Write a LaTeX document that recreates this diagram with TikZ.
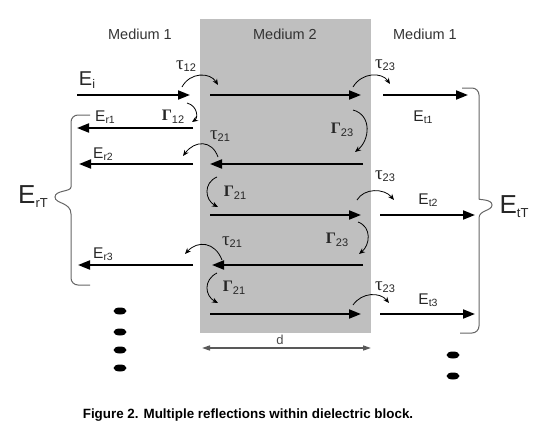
\documentclass[tikz,border=0pt]{standalone}
\usepackage{fontspec}
\setmainfont{Liberation Sans}
\newfontfamily\grk{Liberation Serif}
\usetikzlibrary{arrows.meta}
\newcommand{\mytau}[1]{{\fontsize{19}{19}\selectfont\grk τ}{\fontsize{11}{11}\selectfont\raisebox{-2.5pt}{#1}}}
\newcommand{\mygam}[1]{{\fontsize{16}{16}\selectfont\grk\bfseries Γ}{\fontsize{11}{11}\selectfont\raisebox{-2.5pt}{#1}}}
\newcommand{\myE}[1]{{\fontsize{15.5}{15.5}\selectfont E}{\fontsize{10.5}{10.5}\selectfont\raisebox{-2.5pt}{#1}}}
\begin{document}
\begin{tikzpicture}[x=1pt,y=-1pt,
  big/.style={line width=2pt,-{Triangle[length=12pt,width=9pt]}},
  small/.style={line width=0.8pt,-{Stealth[length=6pt,width=5pt]}},
  bracestyle/.style={draw=black!60,line width=1pt,rounded corners=7pt},
  lbl/.style={inner sep=0pt,text=black!85},
  med/.style={inner sep=0pt,text=black!80,font=\fontsize{14.5}{14.5}\selectfont},
  dot/.style={fill=black}]
\useasboundingbox (0,0) rectangle (539,434);
% block
\fill[black!25] (200,19) rectangle (371,333);
% medium labels
\node[med] (m1l) at (140,34) {Medium 1};
\node[med] (m2) at (285,34) {Medium 2};
\node[med] (m1r) at (425,34) {Medium 1};
% row 1
\draw[big] (77,95) -- (190,95);
\draw[big] (210,95) -- (361,95);
\draw[big] (383,95) -- (468,95);
% row 2
\draw[big] (193,128) -- (77,128);
% row 3
\draw[big] (193,164) -- (79,164);
\draw[big] (363,164) -- (210,164);
% row 4
\draw[big] (210,215) -- (361,215);
\draw[big] (380,215) -- (475,215);
% row 5
\draw[big] (363,265) -- (212,265);
\draw[big] (193,265) -- (78,265);
% row 6
\draw[big] (210,314) -- (361,314);
\draw[big] (380,314) -- (475,314);
% dimension d
\draw[black!65,line width=1.5pt,{Triangle[length=8pt,width=5pt]}-{Triangle[length=8pt,width=5pt]}] (202,348) -- (371,348);
\node[lbl,font=\fontsize{13}{13}\selectfont,text=black!70] (d) at (280,340) {d};
% small curved arrows
\draw[small] (182,87) .. controls (190,72) and (210,72) .. (218,85);
\draw[small] (187,103) .. controls (198,106) and (198,118) .. (192,122);
\draw[small] (353,87) .. controls (362,72) and (382,72) .. (390,84);
\draw[small] (353,110) .. controls (372,115) and (370,140) .. (355,152);
\draw[small] (218,157) .. controls (212,140) and (195,140) .. (183,156);
\draw[small] (217,177) .. controls (203,183) and (205,200) .. (218,207);
\draw[small] (357,200) .. controls (364,188) and (384,188) .. (394,200);
\draw[small] (358,222) .. controls (372,227) and (370,245) .. (359,254);
\draw[small] (222,260) .. controls (215,242) and (198,240) .. (185,254);
\draw[small] (217,273) .. controls (203,280) and (205,296) .. (218,303);
\draw[small] (353,305) .. controls (362,292) and (380,292) .. (389,303);
% greek labels
\node[lbl] (t12) at (186,66) {\mytau{12}};
\node[lbl] (g12) at (173,117) {\mygam{12}};
\node[lbl] (t23a) at (385,65) {\mytau{23}};
\node[lbl] (g23a) at (342,130) {\mygam{23}};
\node[lbl] (t21a) at (220,136) {\mytau{21}};
\node[lbl] (g21a) at (235,193) {\mygam{21}};
\node[lbl] (t23b) at (385,176) {\mytau{23}};
\node[lbl] (g23b) at (337,240) {\mygam{23}};
\node[lbl] (t21b) at (232,242) {\mytau{21}};
\node[lbl] (g21b) at (234,288) {\mygam{21}};
\node[lbl] (t23c) at (385,287) {\mytau{23}};
% E labels
\node[lbl] (Ei) at (87,80) {{\fontsize{20}{20}\selectfont E}{\fontsize{12.5}{12.5}\selectfont\raisebox{-3.5pt}{i}}};
\node[lbl] (Er1) at (105,117) {\myE{r1}};
\node[lbl] (Er2) at (103,154) {\myE{r2}};
\node[lbl] (Er3) at (103,254) {\myE{r3}};
\node[lbl] (Et1) at (423,117) {\myE{t1}};
\node[lbl] (Et2) at (428,200) {\myE{t2}};
\node[lbl] (Et3) at (428,300) {\myE{t3}};
\node[lbl] (ErT) at (33,197) {{\fontsize{26}{26}\selectfont E}{\fontsize{13}{13}\selectfont\raisebox{-4pt}{rT}}};
\node[lbl] (EtT) at (514,207) {{\fontsize{26}{26}\selectfont E}{\fontsize{13}{13}\selectfont\raisebox{-4pt}{tT}}};
% braces
\draw[bracestyle] (90,115) -- (71,115) -- (71,180) [sharp corners] .. controls (71,192) and (55,190) .. (55,197) .. controls (55,204) and (71,202) .. (71,214) [rounded corners=7pt] -- (71,285) -- (90,285);
\draw[bracestyle] (462,88) -- (479,88) -- (479,192) [sharp corners] .. controls (479,200) and (492,199) .. (492,205) .. controls (492,211) and (479,210) .. (479,218) [rounded corners=7pt] -- (479,333) -- (460,333);
% dots
\fill[dot] (120,311) ellipse (6.5 and 3.5);
\fill[dot] (120,332) ellipse (6.5 and 3.5);
\fill[dot] (120,350) ellipse (6.5 and 3.5);
\fill[dot] (120,368) ellipse (6.5 and 3.5);
\fill[dot] (453,355) ellipse (6.5 and 3.5);
\fill[dot] (453,376) ellipse (6.5 and 3.5);
% caption
\node[inner sep=0pt,font=\fontsize{13.4}{13.4}\selectfont\bfseries] (cap) at (248,415) {Figure 2. Multiple reflections within dielectric block.};
\end{tikzpicture}
\end{document}
